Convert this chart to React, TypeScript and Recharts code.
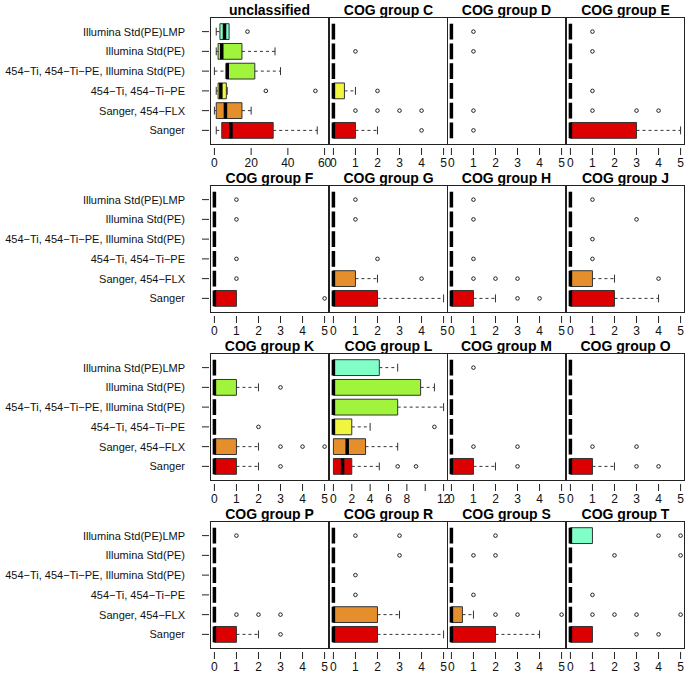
import {
  ScatterChart,
  Scatter,
  XAxis,
  YAxis,
  ReferenceArea,
  ReferenceLine,
} from "recharts";

// groups, top to bottom
const groups = [
  "Illumina Std(PE)LMP",
  "Illumina Std(PE)",
  "454−Ti, 454−Ti−PE, Illumina Std(PE)",
  "454−Ti, 454−Ti−PE",
  "Sanger, 454−FLX",
  "Sanger",
];
const colors = ["#80FFC8", "#A0F53C", "#A0F53C", "#F0F540", "#E58E2C", "#DD0000"];

// [lo, q1, median, q3, hi, outliers]
type Stat = [number, number, number, number, number, number[]];

const unclassified: Stat[] = [
  [1, 3, 5.5, 8, 8, [18]],
  [1, 2, 4, 15, 33, []],
  [0, 6.5, 7, 22, 36, []],
  [1, 2, 3.5, 6.5, 7, [28, 55]],
  [0, 1, 6, 15, 20, []],
  [1, 4, 9, 32, 56, []],
];
const cogC: Stat[] = [
  [0, 0, 0, 0, 0, []],
  [0, 0, 0, 0, 0, [1]],
  [0, 0, 0, 0, 0, []],
  [0, 0, 0, 0.5, 1, [2]],
  [0, 0, 0, 0, 0, [1, 2, 3, 4]],
  [0, 0, 0, 1, 2, [4]],
];
const cogD: Stat[] = [
  [0, 0, 0, 0, 0, [1]],
  [0, 0, 0, 0, 0, [1]],
  [0, 0, 0, 0, 0, []],
  [0, 0, 0, 0, 0, []],
  [0, 0, 0, 0, 0, [1]],
  [0, 0, 0, 0, 0, [1]],
];
const cogE: Stat[] = [
  [0, 0, 0, 0, 0, [1]],
  [0, 0, 0, 0, 0, [1]],
  [0, 0, 0, 0, 0, []],
  [0, 0, 0, 0, 0, [1]],
  [0, 0, 0, 0, 0, [1, 3, 4]],
  [0, 0, 0, 3, 5, []],
];
const cogF: Stat[] = [
  [0, 0, 0, 0, 0, [1]],
  [0, 0, 0, 0, 0, [1]],
  [0, 0, 0, 0, 0, []],
  [0, 0, 0, 0, 0, [1]],
  [0, 0, 0, 0, 0, [1]],
  [0, 0, 0, 1, 1, [5]],
];
const cogG: Stat[] = [
  [0, 0, 0, 0, 0, [1]],
  [0, 0, 0, 0, 0, [1]],
  [0, 0, 0, 0, 0, []],
  [0, 0, 0, 0, 0, [2]],
  [0, 0, 0, 1, 2, [4]],
  [0, 0, 0, 2, 5, []],
];
const cogH: Stat[] = [
  [0, 0, 0, 0, 0, [1]],
  [0, 0, 0, 0, 0, [1]],
  [0, 0, 0, 0, 0, []],
  [0, 0, 0, 0, 0, [1]],
  [0, 0, 0, 0, 0, [1, 2, 3]],
  [0, 0, 0, 1, 2, [3, 4]],
];
const cogJ: Stat[] = [
  [0, 0, 0, 0, 0, [1]],
  [0, 0, 0, 0, 0, [3]],
  [0, 0, 0, 0, 0, [1]],
  [0, 0, 0, 0, 0, [1]],
  [0, 0, 0, 1, 2, [4]],
  [0, 0, 0, 2, 4, []],
];
const cogK: Stat[] = [
  [0, 0, 0, 0, 0, []],
  [0, 0, 0, 1, 2, [3]],
  [0, 0, 0, 0, 0, []],
  [0, 0, 0, 0, 0, [2]],
  [0, 0, 0, 1, 2, [3, 4, 5]],
  [0, 0, 0, 1, 2, [3]],
];
const cogL: Stat[] = [
  [0, 0, 0, 5, 7, []],
  [0, 0, 0, 9.5, 11, []],
  [0, 0, 0, 7, 12, []],
  [0, 0, 0, 2, 4, [11]],
  [0, 0, 1.5, 3.5, 7, []],
  [0, 0, 1, 2, 5, [7, 9]],
];
const cogM: Stat[] = [
  [0, 0, 0, 0, 0, [1]],
  [0, 0, 0, 0, 0, []],
  [0, 0, 0, 0, 0, []],
  [0, 0, 0, 0, 0, []],
  [0, 0, 0, 0, 0, [1, 3]],
  [0, 0, 0, 1, 2, [3]],
];
const cogO: Stat[] = [
  [0, 0, 0, 0, 0, []],
  [0, 0, 0, 0, 0, []],
  [0, 0, 0, 0, 0, []],
  [0, 0, 0, 0, 0, []],
  [0, 0, 0, 0, 0, [1, 3]],
  [0, 0, 0, 1, 2, [3, 4]],
];
const cogP: Stat[] = [
  [0, 0, 0, 0, 0, [1]],
  [0, 0, 0, 0, 0, []],
  [0, 0, 0, 0, 0, []],
  [0, 0, 0, 0, 0, []],
  [0, 0, 0, 0, 0, [1, 2, 3]],
  [0, 0, 0, 1, 2, [3]],
];
const cogR: Stat[] = [
  [0, 0, 0, 0, 0, [1, 3]],
  [0, 0, 0, 0, 0, [3]],
  [0, 0, 0, 0, 0, [1]],
  [0, 0, 0, 0, 0, [1]],
  [0, 0, 0, 2, 3, []],
  [0, 0, 0, 2, 5, []],
];
const cogS: Stat[] = [
  [0, 0, 0, 0, 0, [2]],
  [0, 0, 0, 0, 0, [1, 2]],
  [0, 0, 0, 0, 0, []],
  [0, 0, 0, 0, 0, [1]],
  [0, 0, 0, 0.5, 1, [2, 3, 5]],
  [0, 0, 0, 2, 4, []],
];
const cogT: Stat[] = [
  [0, 0, 0, 1, 1, [4, 5]],
  [0, 0, 0, 0, 0, [2, 5]],
  [0, 0, 0, 0, 0, []],
  [0, 0, 0, 0, 0, [1]],
  [0, 0, 0, 0, 0, [1, 2, 3, 5]],
  [0, 0, 0, 1, 1, [3, 4]],
];

const ticks5 = [0, 1, 2, 3, 4, 5];
const ticks60 = [0, 20, 40, 60];
const ticks12 = [0, 2, 4, 6, 8, 10, 12];
const hiddenLabels12 = [10]; // R drops the overlapping "10" label

const panels = [
  { title: "unclassified", stats: unclassified, max: 60, ticks: ticks60 },
  { title: "COG group C", stats: cogC, max: 5, ticks: ticks5 },
  { title: "COG group D", stats: cogD, max: 5, ticks: ticks5 },
  { title: "COG group E", stats: cogE, max: 5, ticks: ticks5 },
  { title: "COG group F", stats: cogF, max: 5, ticks: ticks5 },
  { title: "COG group G", stats: cogG, max: 5, ticks: ticks5 },
  { title: "COG group H", stats: cogH, max: 5, ticks: ticks5 },
  { title: "COG group J", stats: cogJ, max: 5, ticks: ticks5 },
  { title: "COG group K", stats: cogK, max: 5, ticks: ticks5 },
  { title: "COG group L", stats: cogL, max: 12, ticks: ticks12 },
  { title: "COG group M", stats: cogM, max: 5, ticks: ticks5 },
  { title: "COG group O", stats: cogO, max: 5, ticks: ticks5 },
  { title: "COG group P", stats: cogP, max: 5, ticks: ticks5 },
  { title: "COG group R", stats: cogR, max: 5, ticks: ticks5 },
  { title: "COG group S", stats: cogS, max: 5, ticks: ticks5 },
  { title: "COG group T", stats: cogT, max: 5, ticks: ticks5 },
];

const FONT = "'Liberation Sans', Arial, Helvetica, sans-serif";
const COL_X = [210, 329, 447, 566];
const ROW_Y = [17, 185, 353, 521];
const PW = 119;
const PH = 128;
const AXIS_H = 32;
const LABEL_W = 210;
const HALF = 0.4;

const XTick = (props: any) => {
  const { x, payload, max } = props;
  const v = payload.value;
  const showLabel = !(max === 12 && hiddenLabels12.includes(v));
  return (
    <g>
      <line x1={x} x2={x} y1={PH + 3} y2={PH + 10} stroke="#222" />
      {showLabel ? (
        <text x={x} y={PH + 22} textAnchor="middle" fontSize={12} fontFamily={FONT} fill="#111">
          {v}
        </text>
      ) : null}
    </g>
  );
};

const YTick = (props: any) => {
  const { y, payload } = props;
  const label = groups[groups.length - payload.value];
  return (
    <g>
      <line x1={LABEL_W - 8} x2={LABEL_W - 1} y1={y} y2={y} stroke="#222" />
      <text x={185} y={y} dy={4} textAnchor="end" fontSize={11} fontFamily={FONT} fill="#111">
        {label}
      </text>
    </g>
  );
};

function Panel({ p, row, col }: any) {
  const first = col === 0;
  const yw = first ? LABEL_W : 0;
  const stats: Stat[] = p.stats;
  const pos = (i: number) => groups.length - i;
  const outliers = stats.flatMap((s, i) => s[5].map((v) => ({ x: v, y: pos(i) })));
  const pad = p.max * 0.04;

  return (
    <>
      <div
        style={{
          position: "absolute",
          left: COL_X[col],
          top: ROW_Y[row] - 13,
          width: PW,
          textAlign: "center",
          fontFamily: FONT,
          fontWeight: "bold",
          fontSize: 14,
          lineHeight: "12px",
          color: "#000",
          whiteSpace: "nowrap",
        }}
      >
        {p.title}
      </div>
      <div style={{ position: "absolute", left: COL_X[col] - yw, top: ROW_Y[row] }}>
        <ScatterChart
          width={yw + PW + 12}
          height={PH + AXIS_H}
          margin={{ top: 0, right: 12, bottom: 0, left: 0 }}
        >
          <XAxis
            type="number"
            dataKey="x"
            domain={[-pad, p.max + pad]}
            allowDataOverflow
            ticks={p.ticks}
            interval={0}
            axisLine={false}
            tickLine={false}
            tickSize={0}
            tickMargin={0}
            height={AXIS_H}
            tick={(tp: any) => <XTick {...tp} max={p.max} />}
          />
          <YAxis
            type="number"
            dataKey="y"
            domain={[0.26, 6.74]}
            allowDataOverflow
            ticks={[1, 2, 3, 4, 5, 6]}
            interval={0}
            hide={!first}
            width={yw}
            axisLine={false}
            tickLine={false}
            tickSize={0}
            tickMargin={0}
            tick={YTick}
          />
          {stats.map((s, i) =>
            s[3] > s[1] ? (
              <ReferenceArea
                key={"b" + i}
                x1={s[1]}
                x2={s[3]}
                y1={pos(i) - HALF}
                y2={pos(i) + HALF}
                fill={colors[i]}
                fillOpacity={1}
                stroke="#333"
                strokeWidth={1}
                ifOverflow="visible"
              />
            ) : null
          )}
          {stats.map((s, i) =>
            s[4] > s[3] ? (
              <ReferenceLine
                key={"wh" + i}
                segment={[
                  { x: s[3], y: pos(i) },
                  { x: s[4], y: pos(i) },
                ]}
                stroke="#333"
                strokeDasharray="3 3"
                ifOverflow="visible"
              />
            ) : null
          )}
          {stats.map((s, i) =>
            s[1] > s[0] ? (
              <ReferenceLine
                key={"wl" + i}
                segment={[
                  { x: s[0], y: pos(i) },
                  { x: s[1], y: pos(i) },
                ]}
                stroke="#333"
                strokeDasharray="3 3"
                ifOverflow="visible"
              />
            ) : null
          )}
          {stats.map((s, i) =>
            s[4] > s[3] ? (
              <ReferenceLine
                key={"ch" + i}
                segment={[
                  { x: s[4], y: pos(i) - HALF / 2 },
                  { x: s[4], y: pos(i) + HALF / 2 },
                ]}
                stroke="#333"
                ifOverflow="visible"
              />
            ) : null
          )}
          {stats.map((s, i) =>
            s[1] > s[0] ? (
              <ReferenceLine
                key={"cl" + i}
                segment={[
                  { x: s[0], y: pos(i) - HALF / 2 },
                  { x: s[0], y: pos(i) + HALF / 2 },
                ]}
                stroke="#333"
                ifOverflow="visible"
              />
            ) : null
          )}
          {stats.map((s, i) => (
            <ReferenceLine
              key={"m" + i}
              segment={[
                { x: s[2], y: pos(i) - HALF },
                { x: s[2], y: pos(i) + HALF },
              ]}
              stroke="#000"
              strokeWidth={3.5}
              ifOverflow="visible"
            />
          ))}
          <Scatter
            data={outliers}
            isAnimationActive={false}
            shape={(sp: any) => (
              <circle cx={sp.cx} cy={sp.cy} r={1.8} fill="none" stroke="#222" strokeWidth={1} />
            )}
          />
        </ScatterChart>
      </div>
      <div
        style={{
          position: "absolute",
          left: COL_X[col],
          top: ROW_Y[row],
          width: PW,
          height: PH,
          border: "1px solid #222",
          boxSizing: "border-box",
          pointerEvents: "none",
        }}
      />
    </>
  );
}

export default function App() {
  return (
    <div
      style={{
        position: "absolute",
        left: 0,
        top: 0,
        width: 690,
        height: 679,
        background: "#fff",
        overflow: "hidden",
      }}
    >
      {panels.map((p, k) => (
        <Panel key={p.title} p={p} row={Math.floor(k / 4)} col={k % 4} />
      ))}
    </div>
  );
}
